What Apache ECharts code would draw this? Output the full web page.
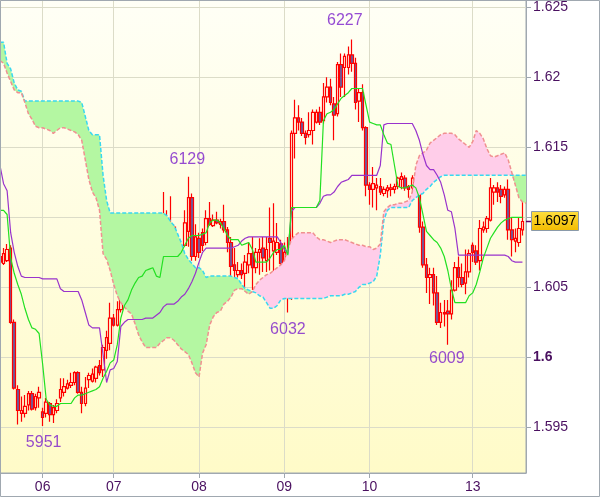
<!DOCTYPE html>
<html><head><meta charset="utf-8">
<script src="https://cdn.jsdelivr.net/npm/echarts@6/dist/echarts.min.js"></script>
<style>html,body{margin:0;padding:0;background:#fff}#c{width:600px;height:497px}</style>
</head><body><div id="c"></div>
<script>
// ---- data (hourly bars, index 0..148) ----
const slotCount = 149;
const dayIndex = [12, 32, 56, 80, 104, 133];
const dayNames = ['06', '07', '08', '09', '10', '13'];

const open = [1.6072,1.6067,1.6069,1.6078,1.6025,1.5977,1.5960,1.5960,1.5966,1.5974,
1.5964,1.5971,1.5961,1.5960,1.5967,1.5959,1.5962,1.5971,1.5975,1.5978,
1.5980,1.5982,1.5989,1.5975,1.5967,1.5984,1.5983,1.5985,1.5994,1.5991,
1.6005,1.6010,1.6028,1.6023,1.6034,1.6062,1.6077,1.6082,1.6081,1.6083,
1.6076,1.6058,1.6045,1.6039,1.6045,1.6054,1.6067,1.6096,1.6085,1.6093,
1.6048,1.6064,1.6080,1.6090,1.6114,1.6072,1.6085,1.6089,1.6082,1.6099,
1.6094,1.6098,1.6095,1.6097,1.6091,1.6082,1.6066,1.6059,1.6062,1.6060,
1.6066,1.6074,1.6064,1.6075,1.6078,1.6069,1.6085,1.6076,1.6075,1.6081,
1.6067,1.6071,1.6043,1.6160,1.6171,1.6168,1.6160,1.6159,1.6162,1.6168,
1.6175,1.6169,1.6186,1.6193,1.6181,1.6174,1.6209,1.6207,1.6207,1.6216,
1.6210,1.6183,1.6189,1.6164,1.6123,1.6120,1.6121,1.6122,1.6117,1.6119,
1.6120,1.6120,1.6122,1.6127,1.6128,1.6122,1.6121,1.6128,1.6126,1.6093,
1.6066,1.6057,1.6059,1.6046,1.6025,1.6032,1.6033,1.6031,1.6048,1.6064,
1.6057,1.6053,1.6061,1.6080,1.6076,1.6069,1.6091,1.6092,1.6098,1.6118,
1.6121,1.6120,1.6116,1.6120,1.6091,1.6083,1.6082,1.6091];
const high = [1.6076,1.6078,1.6081,1.6080,1.6027,1.5980,1.5972,1.5973,1.5976,1.5976,
1.5974,1.5979,1.5964,1.5971,1.5968,1.5966,1.5970,1.5985,1.5985,1.5984,
1.5989,1.5990,1.5990,1.5979,1.5986,1.5989,1.5992,1.5994,1.5998,1.6009,
1.6019,1.6039,1.6031,1.6040,1.6069,1.6100,1.6086,1.6087,1.6087,1.6085,
1.6081,1.6062,1.6050,1.6062,1.6060,1.6072,1.6118,1.6105,1.6115,1.6095,
1.6079,1.6080,1.6105,1.6129,1.6117,1.6095,1.6089,1.6092,1.6105,1.6111,
1.6102,1.6104,1.6099,1.6109,1.6093,1.6086,1.6078,1.6068,1.6067,1.6073,
1.6082,1.6086,1.6078,1.6085,1.6086,1.6086,1.6107,1.6110,1.6096,1.6084,
1.6082,1.6086,1.6162,1.6184,1.6180,1.6171,1.6162,1.6175,1.6177,1.6177,
1.6179,1.6196,1.6200,1.6199,1.6186,1.6211,1.6217,1.6217,1.6222,1.6227,
1.6214,1.6192,1.6195,1.6165,1.6125,1.6136,1.6128,1.6128,1.6122,1.6123,
1.6124,1.6124,1.6129,1.6132,1.6130,1.6123,1.6130,1.6130,1.6130,1.6097,
1.6071,1.6064,1.6064,1.6058,1.6039,1.6041,1.6041,1.6055,1.6068,1.6072,
1.6067,1.6077,1.6077,1.6082,1.6080,1.6098,1.6097,1.6101,1.6128,1.6123,
1.6125,1.6123,1.6122,1.6127,1.6100,1.6092,1.6100,1.6117];
const low = [1.6065,1.6066,1.6068,1.6024,1.5977,1.5952,1.5954,1.5957,1.5962,1.5962,
1.5962,1.5964,1.5951,1.5957,1.5954,1.5953,1.5960,1.5968,1.5972,1.5977,
1.5978,1.5980,1.5974,1.5960,1.5965,1.5978,1.5982,1.5982,1.5987,1.5986,
1.5999,1.6005,1.6022,1.6022,1.6032,1.6061,1.6074,1.6077,1.6079,1.6073,
1.6056,1.6043,1.6026,1.6036,1.6042,1.6053,1.6064,1.6086,1.6071,1.6046,
1.6046,1.6059,1.6079,1.6079,1.6069,1.6069,1.6071,1.6076,1.6080,1.6094,
1.6093,1.6095,1.6092,1.6089,1.6075,1.6057,1.6057,1.6057,1.6056,1.6049,
1.6060,1.6048,1.6060,1.6059,1.6061,1.6061,1.6062,1.6061,1.6073,1.6060,
1.6060,1.6032,1.6041,1.6142,1.6162,1.6158,1.6152,1.6157,1.6152,1.6167,
1.6166,1.6167,1.6182,1.6180,1.6155,1.6172,1.6186,1.6186,1.6202,1.6204,
1.6177,1.6168,1.6162,1.6115,1.6109,1.6107,1.6105,1.6116,1.6115,1.6114,
1.6115,1.6117,1.6120,1.6120,1.6119,1.6114,1.6117,1.6120,1.6089,1.6064,
1.6046,1.6038,1.6037,1.6023,1.6021,1.6022,1.6009,1.6027,1.6047,1.6050,
1.6050,1.6045,1.6057,1.6068,1.6066,1.6062,1.6089,1.6089,1.6097,1.6109,
1.6111,1.6110,1.6114,1.6084,1.6072,1.6075,1.6079,1.6087];
const close = [1.6068,1.6074,1.6077,1.6025,1.5978,1.5962,1.5962,1.5965,1.5974,1.5963,
1.5972,1.5975,1.5957,1.5968,1.5959,1.5964,1.5967,1.5977,1.5979,1.5981,
1.5982,1.5989,1.5975,1.5967,1.5978,1.5987,1.5988,1.5993,1.5989,1.6007,
1.6014,1.6028,1.6023,1.6034,1.6062,1.6077,1.6082,1.6084,1.6084,1.6074,
1.6057,1.6045,1.6039,1.6050,1.6054,1.6067,1.6096,1.6091,1.6094,1.6047,
1.6072,1.6078,1.6096,1.6114,1.6072,1.6086,1.6075,1.6080,1.6099,1.6095,
1.6098,1.6096,1.6097,1.6091,1.6082,1.6065,1.6062,1.6062,1.6059,1.6068,
1.6074,1.6064,1.6075,1.6077,1.6071,1.6077,1.6082,1.6083,1.6082,1.6067,
1.6075,1.6043,1.6160,1.6171,1.6168,1.6160,1.6157,1.6162,1.6175,1.6175,
1.6168,1.6186,1.6193,1.6182,1.6173,1.6209,1.6193,1.6215,1.6216,1.6210,
1.6182,1.6189,1.6164,1.6123,1.6120,1.6124,1.6123,1.6118,1.6120,1.6121,
1.6121,1.6122,1.6128,1.6129,1.6121,1.6120,1.6128,1.6122,1.6093,1.6066,
1.6057,1.6059,1.6046,1.6025,1.6032,1.6031,1.6031,1.6048,1.6064,1.6057,
1.6052,1.6061,1.6074,1.6075,1.6068,1.6092,1.6093,1.6099,1.6121,1.6121,
1.6118,1.6115,1.6120,1.6091,1.6084,1.6085,1.6092,1.6097];

const tenkan = [1.6105,1.6105,1.6102,1.6071,1.6060,1.6052,1.6045,1.6035,1.6027,1.6021,
1.6020,1.6017,1.5995,1.5970,1.5966,1.5965,1.5965,1.5967,1.5967,1.5967,
1.5967,1.5971,1.5973,1.5973,1.5974,1.5975,1.5976,1.5977,1.5979,1.5985,
1.5990,1.5996,1.5998,1.6009,1.6028,1.6037,1.6041,1.6048,1.6053,1.6057,
1.6058,1.6062,1.6063,1.6064,1.6058,1.6057,1.6072,1.6072,1.6072,1.6072,
1.6072,1.6075,1.6080,1.6085,1.6087,1.6087,1.6087,1.6088,1.6089,1.6096,
1.6098,1.6098,1.6096,1.6092,1.6087,1.6084,1.6084,1.6084,1.6080,1.6081,
1.6082,1.6077,1.6068,1.6068,1.6068,1.6068,1.6071,1.6075,1.6077,1.6077,
1.6080,1.6073,1.6107,1.6107,1.6107,1.6107,1.6107,1.6107,1.6107,1.6107,
1.6112,1.6169,1.6174,1.6175,1.6177,1.6181,1.6185,1.6187,1.6189,1.6192,
1.6192,1.6192,1.6192,1.6180,1.6168,1.6167,1.6166,1.6166,1.6159,1.6153,
1.6152,1.6137,1.6122,1.6121,1.6121,1.6122,1.6123,1.6121,1.6114,1.6102,
1.6090,1.6087,1.6084,1.6082,1.6078,1.6072,1.6062,1.6049,1.6039,1.6039,
1.6039,1.6039,1.6044,1.6046,1.6052,1.6061,1.6071,1.6078,1.6085,1.6089,
1.6093,1.6096,1.6098,1.6099,1.6100,1.6100,1.6100,1.6100];
const kijun = [1.6137,1.6124,1.6119,1.6089,1.6075,1.6065,1.6058,1.6057,1.6057,1.6057,
1.6057,1.6057,1.6056,1.6056,1.6056,1.6056,1.6056,1.6049,1.6047,1.6047,
1.6047,1.6047,1.6047,1.6041,1.6032,1.6023,1.6021,1.6021,1.6021,1.6002,
1.5982,1.5991,1.5992,1.5997,1.6022,1.6025,1.6027,1.6027,1.6027,1.6027,
1.6027,1.6028,1.6028,1.6028,1.6030,1.6032,1.6036,1.6038,1.6038,1.6038,
1.6040,1.6043,1.6045,1.6049,1.6054,1.6060,1.6068,1.6075,1.6078,1.6078,
1.6078,1.6078,1.6078,1.6078,1.6078,1.6078,1.6079,1.6080,1.6083,1.6085,
1.6086,1.6086,1.6086,1.6086,1.6086,1.6086,1.6086,1.6086,1.6086,1.6082,
1.6077,1.6074,1.6104,1.6107,1.6107,1.6107,1.6107,1.6107,1.6107,1.6107,
1.6110,1.6115,1.6116,1.6116,1.6118,1.6122,1.6125,1.6126,1.6127,1.6130,
1.6130,1.6130,1.6130,1.6130,1.6130,1.6130,1.6130,1.6137,1.6166,1.6167,
1.6167,1.6167,1.6167,1.6167,1.6167,1.6167,1.6167,1.6162,1.6155,1.6145,
1.6137,1.6134,1.6134,1.6130,1.6125,1.6116,1.6105,1.6104,1.6092,1.6073,
1.6073,1.6073,1.6073,1.6073,1.6073,1.6073,1.6073,1.6073,1.6073,1.6073,
1.6073,1.6073,1.6073,1.6072,1.6069,1.6068,1.6068,1.6068];
const spanA = [1.6225,1.6225,1.6210,1.6206,1.6196,1.6191,1.6190,1.6183,1.6183,1.6183,
1.6183,1.6183,1.6183,1.6183,1.6183,1.6183,1.6183,1.6183,1.6183,1.6183,
1.6183,1.6183,1.6183,1.6182,1.6172,1.6162,1.6159,1.6159,1.6159,1.6130,
1.6112,1.6103,1.6103,1.6103,1.6103,1.6103,1.6103,1.6103,1.6103,1.6103,
1.6103,1.6103,1.6103,1.6103,1.6103,1.6103,1.6103,1.6101,1.6097,1.6094,
1.6088,1.6082,1.6074,1.6070,1.6067,1.6064,1.6064,1.6062,1.6057,1.6058,
1.6058,1.6058,1.6058,1.6058,1.6058,1.6058,1.6057,1.6056,1.6052,1.6049,
1.6048,1.6047,1.6046,1.6044,1.6043,1.6039,1.6035,1.6035,1.6037,1.6041,
1.6042,1.6042,1.6042,1.6042,1.6042,1.6042,1.6042,1.6042,1.6042,1.6042,
1.6042,1.6042,1.6043,1.6044,1.6044,1.6044,1.6044,1.6045,1.6045,1.6046,
1.6047,1.6050,1.6052,1.6052,1.6053,1.6054,1.6058,1.6073,1.6098,1.6105,
1.6107,1.6107,1.6107,1.6107,1.6107,1.6107,1.6112,1.6114,1.6116,1.6117,
1.6120,1.6122,1.6125,1.6127,1.6129,1.6130,1.6130,1.6130,1.6130,1.6130,
1.6130,1.6130,1.6130,1.6130,1.6130,1.6130,1.6130,1.6130,1.6130,1.6130,
1.6130,1.6130,1.6130,1.6130,1.6130,1.6130,1.6130,1.6130,1.6130];
const spanB = [1.6212,1.6210,1.6203,1.6197,1.6191,1.6189,1.6189,1.6182,1.6174,1.6170,
1.6165,1.6164,1.6164,1.6163,1.6162,1.6160,1.6162,1.6164,1.6164,1.6163,
1.6162,1.6161,1.6159,1.6155,1.6141,1.6127,1.6118,1.6114,1.6105,1.6074,
1.6070,1.6062,1.6052,1.6044,1.6039,1.6036,1.6033,1.6031,1.6024,1.6016,
1.6011,1.6007,1.6007,1.6007,1.6007,1.6010,1.6012,1.6014,1.6014,1.6012,
1.6009,1.6006,1.6004,1.6002,1.5996,1.5989,1.5986,1.6003,1.6009,1.6023,
1.6029,1.6032,1.6033,1.6038,1.6040,1.6043,1.6048,1.6049,1.6049,1.6047,
1.6045,1.6047,1.6052,1.6055,1.6057,1.6059,1.6060,1.6062,1.6064,1.6066,
1.6069,1.6077,1.6084,1.6087,1.6089,1.6089,1.6089,1.6089,1.6089,1.6086,
1.6084,1.6084,1.6083,1.6082,1.6083,1.6084,1.6084,1.6084,1.6083,1.6082,
1.6081,1.6080,1.6080,1.6079,1.6079,1.6077,1.6078,1.6081,1.6104,1.6107,
1.6109,1.6109,1.6110,1.6110,1.6111,1.6112,1.6118,1.6137,1.6144,1.6146,
1.6148,1.6153,1.6155,1.6157,1.6159,1.6160,1.6160,1.6160,1.6159,1.6156,
1.6154,1.6152,1.6150,1.6154,1.6162,1.6160,1.6156,1.6149,1.6144,1.6143,
1.6144,1.6145,1.6146,1.6141,1.6132,1.6123,1.6114,1.6111,1.6110];

// swing high / low annotations: bar index and price
const swingIndex = [12, 42, 53, 81, 99, 126];
const swingPrice = [1.5951, 1.6026, 1.6129, 1.6032, 1.6227, 1.6009];
const lastPrice = 1.6097;

// ---- layout / style (not data) ----
const swingOffsets = [[1, 17], [10, 12], [-1, -17], [0, 17], [-7, -19], [-1, 14]];
const FONT = "'Liberation Sans', Arial, sans-serif";
const TXT = '#4a1060';
const GRID = '#dcdcc8';
const FRAME = '#a0a8b0';

const cats = Array.from({length: slotCount}, (_, i) => {
  const k = dayIndex.indexOf(i); return k >= 0 ? dayNames[k] : '';
});
const isDay = (i) => dayIndex.indexOf(i) >= 0;
const candles = open.map((o, i) => [o, close[i], low[i], high[i]]);
const cloudBase = spanA.map((a, i) => Math.min(a, spanB[i]));
const cloudBull = spanA.map((a, i) => Math.max(a - spanB[i], 0));
const cloudBear = spanA.map((a, i) => Math.max(spanB[i] - a, 0));
const swings = swingIndex.map((ix, k) => ({
  value: [ix, swingPrice[k]],
  label: {offset: swingOffsets[k]}
}));

const chart = echarts.init(document.getElementById('c'), null, {renderer: 'canvas', width: 600, height: 497});
const option = {
  animation: false,
  backgroundColor: '#ffffff',
  grid: {
    left: 0, top: 0, right: 74, bottom: 24,
    show: true,
    borderColor: FRAME, borderWidth: 1,
    backgroundColor: new echarts.graphic.LinearGradient(0, 0, 0, 1, [
      {offset: 0, color: '#fffff6'}, {offset: 1, color: '#fffbc8'}
    ])
  },
  xAxis: {
    type: 'category',
    data: cats,
    boundaryGap: false,
    axisLine: {show: true, lineStyle: {color: FRAME, width: 1}},
    axisTick: {show: true, interval: (i) => isDay(i), length: 5, lineStyle: {color: FRAME}},
    axisLabel: {interval: (i) => isDay(i), color: TXT, fontSize: 14, fontFamily: FONT, margin: 7},
    splitLine: {show: true, interval: (i) => isDay(i), lineStyle: {color: GRID, width: 1}}
  },
  yAxis: {
    type: 'value',
    position: 'right',
    min: 1.591735,
    max: 1.625521,
    scale: true,
    axisLine: {show: true, lineStyle: {color: FRAME, width: 1}},
    axisTick: {show: true, inside: false, length: 5, lineStyle: {color: FRAME}},
    axisLabel: {
      color: TXT, fontSize: 14, fontFamily: FONT, margin: 7,
      showMinLabel: false, showMaxLabel: false,
      formatter: (v) => {
        if (Math.abs(v - 1.6) < 1e-7) return '{b|1.6}';
        if (Math.abs(v - 1.61) < 1e-7) return '';
        return String(+v.toFixed(4));
      },
      rich: {b: {fontWeight: 'bold', fontSize: 14, color: TXT, fontFamily: FONT}}
    },
    splitLine: {show: true, lineStyle: {color: GRID, width: 1}}
  },
  series: [
    {type: 'line', data: cloudBase, stack: 'cloud', symbol: 'none', lineStyle: {opacity: 0}, silent: true},
    {type: 'line', data: cloudBull, stack: 'cloud', symbol: 'none', lineStyle: {opacity: 0},
     areaStyle: {color: '#b4f7a2', opacity: 1}, silent: true},
    {type: 'line', data: cloudBear, stack: 'cloud', symbol: 'none', lineStyle: {opacity: 0},
     areaStyle: {color: '#ffcde9', opacity: 1}, silent: true},
    {type: 'line', data: spanA, symbol: 'none', lineStyle: {color: '#38d8f0', width: 1.5, type: [4, 2]}},
    {type: 'line', data: spanB, symbol: 'none', lineStyle: {color: '#f09090', width: 1.5, type: [4, 2]}},
    {type: 'candlestick', data: candles, barWidth: 3,
     itemStyle: {color: 'rgba(255,255,255,0)', color0: '#6e5c9e', borderColor: '#ff0000', borderColor0: '#ff0000', borderWidth: 1.2}},
    {type: 'line', data: kijun, symbol: 'none', lineStyle: {color: '#9933cc', width: 1.2}},
    {type: 'line', data: tenkan, symbol: 'none', lineStyle: {color: '#22e022', width: 1.2}},
    {type: 'scatter', data: swings, symbolSize: 0, silent: true,
     label: {show: true, position: 'inside', color: '#7a1ecb', fontSize: 16, fontFamily: FONT,
       formatter: (p) => String(Math.round(p.value[1] * 10000) - 10000)}}
  ]
};
chart.setOption(option);

const py = chart.convertToPixel({yAxisIndex: 0}, lastPrice);
chart.setOption({
  graphic: [
    {type: 'line', shape: {x1: 526, y1: py, x2: 532, y2: py}, style: {stroke: '#660066', lineWidth: 1.5}, z: 100},
    {type: 'rect', shape: {x: 531.5, y: Math.round(py) - 9.5, width: 47, height: 19},
     style: {fill: new echarts.graphic.LinearGradient(0, 0, 0, 1, [{offset: 0, color: '#ffe040'}, {offset: 1, color: '#f2bb00'}]),
       stroke: '#8a9aaa', lineWidth: 1}, z: 100},
    {type: 'text', x: 555, y: Math.round(py),
     style: {text: String(lastPrice), fill: '#000', font: '14px ' + FONT, align: 'center', verticalAlign: 'middle'}, z: 101},
    {type: 'rect', shape: {x: 0.5, y: 0.5, width: 599, height: 496}, style: {fill: 'none', stroke: FRAME, lineWidth: 1}, z: 100, silent: true}
  ]
});
</script>
</body></html>
